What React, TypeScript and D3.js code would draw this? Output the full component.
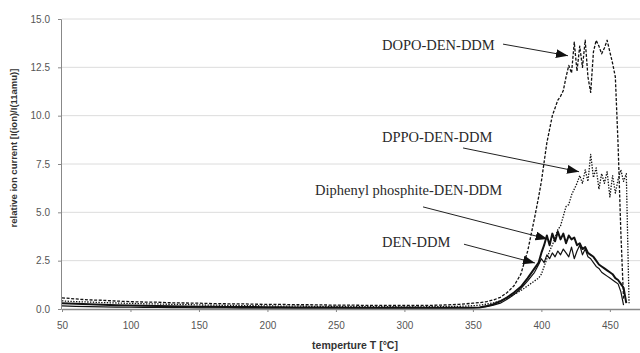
import { axisBottom, axisLeft, format, line, scaleLinear, select } from "d3";
import React, { useEffect, useRef } from "react";

// temperature (°C) of each reading
const temps = [
  50, 60, 70, 80, 90, 100, 110, 120, 130, 140, 150, 160, 170, 180, 190, 200, 210, 220, 230, 240,
  250, 260, 270, 280, 290, 300, 310, 320, 330, 340,
  345, 350, 355, 360, 365, 370, 375, 380, 385, 390, 395,
  398, 400, 402, 404, 406, 408, 410, 412, 414, 416, 418, 420, 422, 424, 426, 428, 430, 432, 434,
  436, 438, 440, 442, 444, 446, 448, 450, 452, 454, 456, 458, 460, 462, 464, 466,
];

const dopo = [
  0.58, 0.52, 0.47, 0.45, 0.41, 0.38, 0.36, 0.35, 0.32, 0.31, 0.3, 0.28, 0.27, 0.27, 0.25, 0.24, 0.24, 0.22, 0.22, 0.21,
  0.2, 0.2, 0.19, 0.19, 0.18, 0.18, 0.18, 0.19, 0.21, 0.24,
  0.27, 0.3, 0.33, 0.38, 0.47, 0.6, 0.85, 1.2, 1.8, 3.0, 4.7,
  5.8, 6.6, 7.6, 8.6, 9.3, 10.0, 10.4, 10.8, 11.0, 11.3, 12.0, 12.6, 12.2, 13.8, 12.3, 13.6, 12.5, 13.9, 12.0,
  11.2, 13.3, 13.9, 13.6, 13.2, 13.5, 13.9, 13.3, 12.7, 12.0, 8.5, 4.0, 0.5, null, null, null,
];

const dppo = [
  0.42, 0.38, 0.36, 0.33, 0.31, 0.29, 0.27, 0.26, 0.24, 0.23, 0.21, 0.2, 0.19, 0.18, 0.17, 0.16, 0.15, 0.15, 0.14, 0.14,
  0.13, 0.13, 0.12, 0.12, 0.12, 0.11, 0.11, 0.12, 0.13, 0.14,
  0.15, 0.17, 0.2, 0.25, 0.32, 0.42, 0.55, 0.75, 0.95, 1.2, 1.45,
  1.6, 1.8, 2.2, 2.6, 3.0, 3.3, 3.7, 4.1, 4.3, 4.8, 5.3, 5.4, 5.9, 6.2, 6.5, 6.9, 6.5, 7.2, 6.6,
  8.0, 6.8, 7.3, 6.2, 7.0, 6.5, 7.1, 5.8, 6.9, 6.0, 6.7, 7.2, 6.6, 7.0, 0.3, null,
];

const diphenyl = [
  0.3, 0.27, 0.25, 0.22, 0.2, 0.18, 0.17, 0.15, 0.14, 0.13, 0.12, 0.11, 0.1, 0.1, 0.1, 0.09, 0.09, 0.08, 0.08, 0.08,
  0.08, 0.07, 0.07, 0.07, 0.07, 0.07, 0.07, 0.07, 0.07, 0.07,
  0.07, 0.07, 0.08, 0.15, 0.25, 0.4, 0.6, 0.85, 1.15, 1.6, 2.1,
  2.4, 2.9, 3.3, 3.8, 3.3, 3.9, 3.5, 4.0, 3.6, 3.9, 3.4, 3.8, 3.6, 3.7, 3.3, 3.4, 3.1, 3.2, 2.9,
  2.8, 2.7, 2.5, 2.3, 2.2, 2.1, 2.0, 1.9, 1.8, 1.6, 1.5, 1.3, 1.1, 0.3, null, null,
];

const denDdm = [
  0.16, 0.14, 0.12, 0.11, 0.1, 0.09, 0.08, 0.08, 0.07, 0.07, 0.06, 0.06, 0.06, 0.05, 0.05, 0.05, 0.05, 0.05, 0.05, 0.05,
  0.05, 0.05, 0.05, 0.05, 0.05, 0.05, 0.05, 0.05, 0.05, 0.06,
  0.06, 0.07, 0.08, 0.12, 0.2, 0.3, 0.5, 0.75, 1.05, 1.45, 1.9,
  2.3, 2.6, 2.4, 2.8, 2.6, 2.9, 2.7, 3.0, 2.8, 3.1, 2.9, 2.7, 3.2, 2.6, 3.0, 3.3, 2.8, 3.1, 2.7,
  2.6, 2.4, 2.2, 2.1, 1.9, 1.8, 1.7, 1.6, 1.5, 1.4, 1.3, 0.9, 0.2, null, null, null,
];

const xTicks = [50, 100, 150, 200, 250, 300, 350, 400, 450];
const yTicks = [0, 2.5, 5, 7.5, 10, 12.5, 15];

// label text, label anchor [T, value], arrow start and tip [T, value]
const notes = [
  { text: "DOPO-DEN-DDM", at: [283.6, 13.4], from: [372, 13.7], to: [419.4, 13.1] },
  { text: "DPPO-DEN-DDM", at: [283.6, 8.64], from: [342.8, 8.33], to: [427.5, 7.1] },
  { text: "Diphenyl phosphite-DEN-DDM", at: [234.7, 5.9], from: [313.6, 5.28], to: [404.5, 3.62] },
  { text: "DEN-DDM", at: [283.6, 3.2], from: [343.5, 3.35], to: [395.3, 2.38] },
];

const width = 640;
const height = 353;

export default function App() {
  const ref = useRef<SVGSVGElement>(null);

  useEffect(() => {
    const svg = select(ref.current);
    svg.selectAll("*").remove();

    const x = scaleLinear().domain([50, 472]).range([62, 640]);
    const y = scaleLinear().domain([0, 15]).range([309, 19]);

    const defs = svg.append("defs");
    defs
      .append("marker")
      .attr("id", "head")
      .attr("viewBox", "0 0 12 9")
      .attr("refX", 12)
      .attr("refY", 4.5)
      .attr("markerWidth", 12)
      .attr("markerHeight", 9)
      .attr("markerUnits", "userSpaceOnUse")
      .attr("orient", "auto")
      .append("path")
      .attr("d", "M0,0L12,4.5L0,9Z")
      .attr("fill", "#111");

    // grid
    svg
      .append("g")
      .selectAll("line")
      .data(yTicks.filter((d) => d > 0))
      .join("line")
      .attr("x1", x(50))
      .attr("x2", width)
      .attr("y1", (d) => y(d))
      .attr("y2", (d) => y(d))
      .attr("stroke", "#dcdcdc");

    const series = [
      { values: dopo, w: 1.3, dash: "3,1.6" },
      { values: dppo, w: 1.3, dash: "1.4,1.4" },
      { values: denDdm, w: 1.2, dash: null },
      { values: diphenyl, w: 2, dash: null },
    ];

    const path = line<number>()
      .defined((_, i, arr) => arr[i] != null)
      .x((_, i) => x(temps[i]))
      .y((d) => y(d));

    svg
      .append("g")
      .selectAll("path")
      .data(series)
      .join("path")
      .attr("d", (s) => path(s.values as number[]))
      .attr("fill", "none")
      .attr("stroke", "#111")
      .attr("stroke-width", (s) => s.w)
      .attr("stroke-linejoin", "round")
      .attr("stroke-dasharray", (s) => s.dash);

    const yAxis = axisLeft(y).tickValues(yTicks).tickFormat(format(".1f")).tickSize(3).tickPadding(8);
    const yg = svg.append("g").attr("transform", `translate(${x(50) - 1},0)`).call(yAxis);
    yg.select(".domain").attr("stroke", "#888");
    yg.selectAll(".tick line").attr("stroke", "#888");
    yg.selectAll("text").attr("fill", "#555").attr("font-size", 10).attr("font-family", "Liberation Sans, Arial");

    const xAxis = axisBottom(x).tickValues(xTicks).tickFormat(format("d")).tickSize(3).tickPadding(10).tickSizeOuter(0);
    const xg = svg.append("g").attr("transform", `translate(0,${y(0)})`).call(xAxis);
    xg.select(".domain").attr("stroke", "#888").attr("stroke-width", 1.5);
    xg.selectAll(".tick line").attr("stroke", "#888");
    xg.selectAll("text").attr("fill", "#555").attr("font-size", 10).attr("font-family", "Liberation Sans, Arial");

    svg
      .append("text")
      .attr("transform", `translate(17,${(y(15) + y(0)) / 2 - 16}) rotate(-90)`)
      .attr("text-anchor", "middle")
      .attr("font-family", "Liberation Sans, Arial")
      .attr("font-weight", "bold")
      .attr("font-size", 9.5)
      .attr("fill", "#333")
      .text("relative ion current [I(ion)/I(11amu)]");

    svg
      .append("text")
      .attr("x", (x(50) + width) / 2 + 4)
      .attr("y", 349)
      .attr("text-anchor", "middle")
      .attr("font-family", "Liberation Sans, Arial")
      .attr("font-weight", "bold")
      .attr("font-size", 10.5)
      .attr("fill", "#333")
      .text("temperture T [°C]");

    const ann = svg.append("g");
    ann
      .selectAll("line")
      .data(notes)
      .join("line")
      .attr("x1", (d) => x(d.from[0]))
      .attr("y1", (d) => y(d.from[1]))
      .attr("x2", (d) => x(d.to[0]))
      .attr("y2", (d) => y(d.to[1]))
      .attr("stroke", "#222")
      .attr("stroke-width", 1)
      .attr("marker-end", "url(#head)");
    ann
      .selectAll("text")
      .data(notes)
      .join("text")
      .attr("x", (d) => x(d.at[0]))
      .attr("y", (d) => y(d.at[1]))
      .attr("font-family", "Liberation Serif, Times New Roman")
      .attr("font-size", 14.5)
      .attr("fill", "#2a2a2a")
      .text((d) => d.text);
  }, []);

  return (
    <svg
      ref={ref}
      width={width}
      height={height}
      style={{ position: "absolute", left: 0, top: 0, background: "#fff" }}
    />
  );
}
